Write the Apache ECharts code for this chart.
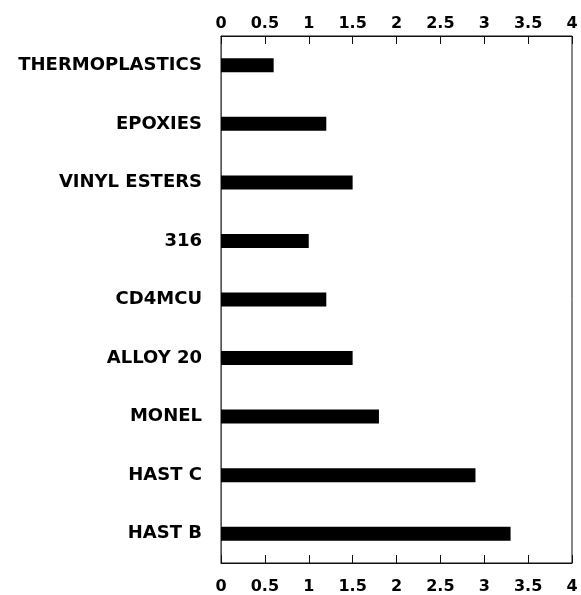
<!DOCTYPE html>
<html><head><meta charset="utf-8">
<script src="https://cdn.jsdelivr.net/npm/echarts@6/dist/echarts.min.js"></script>
<style>html,body{margin:0;padding:0;background:#fff}#c{width:581px;height:595px}</style>
</head><body><div id="c"></div>
<script>
const categories = ['THERMOPLASTICS','EPOXIES','VINYL ESTERS','316','CD4MCU','ALLOY 20','MONEL','HAST C','HAST B'];
const values = [0.6, 1.2, 1.5, 1.0, 1.2, 1.5, 1.8, 2.9, 3.3];
const tickLabels = ['0','0.5','1','1.5','2','2.5','3','3.5','4'];

const chart = echarts.init(document.getElementById('c'));
const font = 'DejaVu Sans, sans-serif';
const base = {type: 'value', min: 0, max: 4, interval: 0.5, splitLine: {show: false}};
const labelAxis = (pos, margin) => Object.assign({}, base, {
  position: pos,
  axisLine: {show: true, onZero: false, lineStyle: {color: '#111'}},
  axisTick: {show: false},
  axisLabel: {color: '#000', fontSize: 16, fontFamily: font, fontWeight: 'bold', margin: margin,
    formatter: v => tickLabels[Math.round(v * 2)]}
});
// tick-only axes shifted into the plot so their outward ticks end on the frame
const tickAxis = (pos) => Object.assign({}, base, {
  position: pos, offset: -8,
  axisLine: {show: false, onZero: false},
  axisTick: {show: true, length: 8, lineStyle: {color: '#111', width: 1}},
  axisLabel: {show: false}
});
chart.setOption({
  animation: false,
  grid: {left: 221, right: 9, top: 36, bottom: 31, show: true, borderColor: '#111', borderWidth: 1},
  xAxis: [labelAxis('top', 4), labelAxis('bottom', 16), tickAxis('top'), tickAxis('bottom')],
  yAxis: {
    type: 'category', data: categories, inverse: true,
    axisLine: {show: true, lineStyle: {color: '#555'}},
    axisTick: {show: false},
    axisLabel: {color: '#000', fontSize: 18, fontFamily: font, fontWeight: 'bold', margin: 19}
  },
  series: [{
    type: 'bar', data: values, barWidth: 14, xAxisIndex: 0,
    itemStyle: {color: '#000'}
  }]
});
</script></body></html>
